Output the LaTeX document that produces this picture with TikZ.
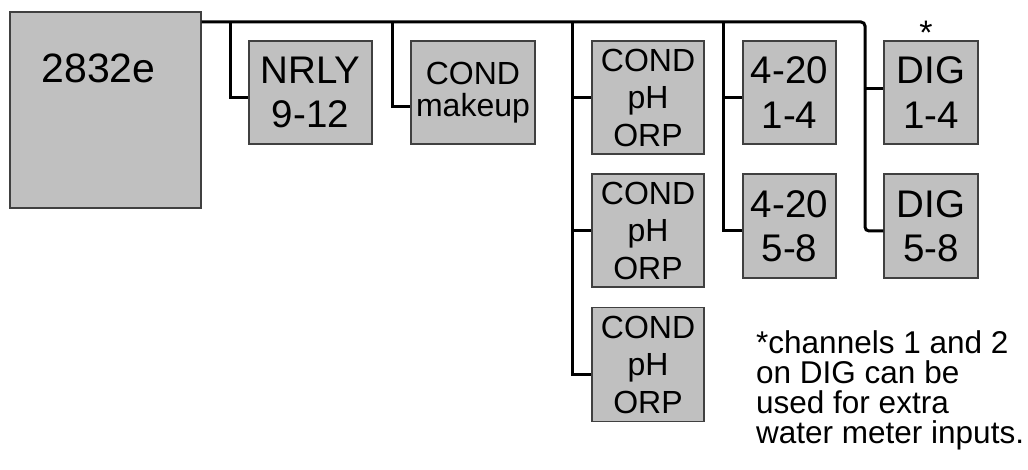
\documentclass[tikz,border=0pt]{standalone}
\usepackage{fontspec}
\setmainfont{Liberation Sans}
\definecolor{boxgray}{HTML}{C0C0C0}
\definecolor{edgegray}{HTML}{404040}
\newcommand{\fMain}{\fontsize{41pt}{46pt}\selectfont}
\newcommand{\fLarge}{\fontsize{38.5pt}{44.5pt}\selectfont}
\newcommand{\fMid}{\fontsize{32pt}{37.5pt}\selectfont}
\newcommand{\fMake}{\fontsize{32pt}{32pt}\selectfont}
\newcommand{\fNote}{\fontsize{31.5pt}{30pt}\selectfont}
\begin{document}
\begin{tikzpicture}[x=1pt,y=-1pt,
  unitbox/.style={draw=edgegray, fill=boxgray, line width=1.2pt, inner sep=0pt, align=center},
  wire/.style={draw=black, line width=3pt}]
\useasboundingbox[fill=white] (0,0) rectangle (1028,470);
% boxes
\node[unitbox, minimum width=191pt, minimum height=196pt] (main) at (105.5,110) {};
\node[anchor=base, font=\fMain, inner sep=0pt] (mainlabel) at (98.5,83) {2832e};
\node[unitbox, minimum width=123pt, minimum height=103pt, font=\fLarge] (nrly) at (310.5,92.5) {NRLY\\9-12};
\node[unitbox, minimum width=124pt, minimum height=103pt, font=\fMake] (makeup) at (473,92.5) {COND\\makeup};
\node[unitbox, minimum width=112pt, minimum height=113pt, font=\fMid] (c1) at (648,97.5) {COND\\pH\\ORP};
\node[unitbox, minimum width=112pt, minimum height=113pt, font=\fMid] (c2) at (648,230.5) {COND\\pH\\ORP};
\node[unitbox, minimum width=112pt, minimum height=114pt, font=\fMid] (c3) at (648,364.5) {COND\\pH\\ORP};
\node[unitbox, minimum width=93pt, minimum height=103pt, font=\fLarge] (t1) at (789.5,92.5) {4-20\\1-4};
\node[unitbox, minimum width=93pt, minimum height=104pt, font=\fLarge] (t2) at (789.5,226) {4-20\\5-8};
\node[unitbox, minimum width=94pt, minimum height=103pt, font=\fLarge] (d1) at (931,92.5) {DIG\\1-4};
\node[unitbox, minimum width=94pt, minimum height=104pt, font=\fLarge] (d2) at (931,226) {DIG\\5-8};
\node[anchor=base, font=\fontsize{34pt}{40pt}\selectfont, inner sep=0pt] (star) at (926,45) {*};
\node[anchor=north west, align=left, font=\fNote, inner sep=0pt] (note) at (756,330)
  {*channels 1 and 2\\on DIG can be\\used for extra\\water meter inputs.};
% bus
\coordinate (busstart) at (main.east |- 0,22);
\coordinate (busend) at (865,22);
\draw[wire, rounded corners=4pt] (busstart) -- (busend) |- (d2.west |- 0,231);
\draw[wire] (865,89) -- (d1.west |- 0,89);
% branches
\draw[wire] (230,22) |- (nrly.west |- 0,98);
\draw[wire] (392,22) |- (makeup.west |- 0,107);
\draw[wire] (572,22) |- (c3.west |- 0,374);
\draw[wire] (572,98) -- (c1.west |- 0,98);
\draw[wire] (572,231) -- (c2.west |- 0,231);
\draw[wire] (723,22) |- (t2.west |- 0,231);
\draw[wire] (723,98) -- (t1.west |- 0,98);
\end{tikzpicture}
\end{document}
